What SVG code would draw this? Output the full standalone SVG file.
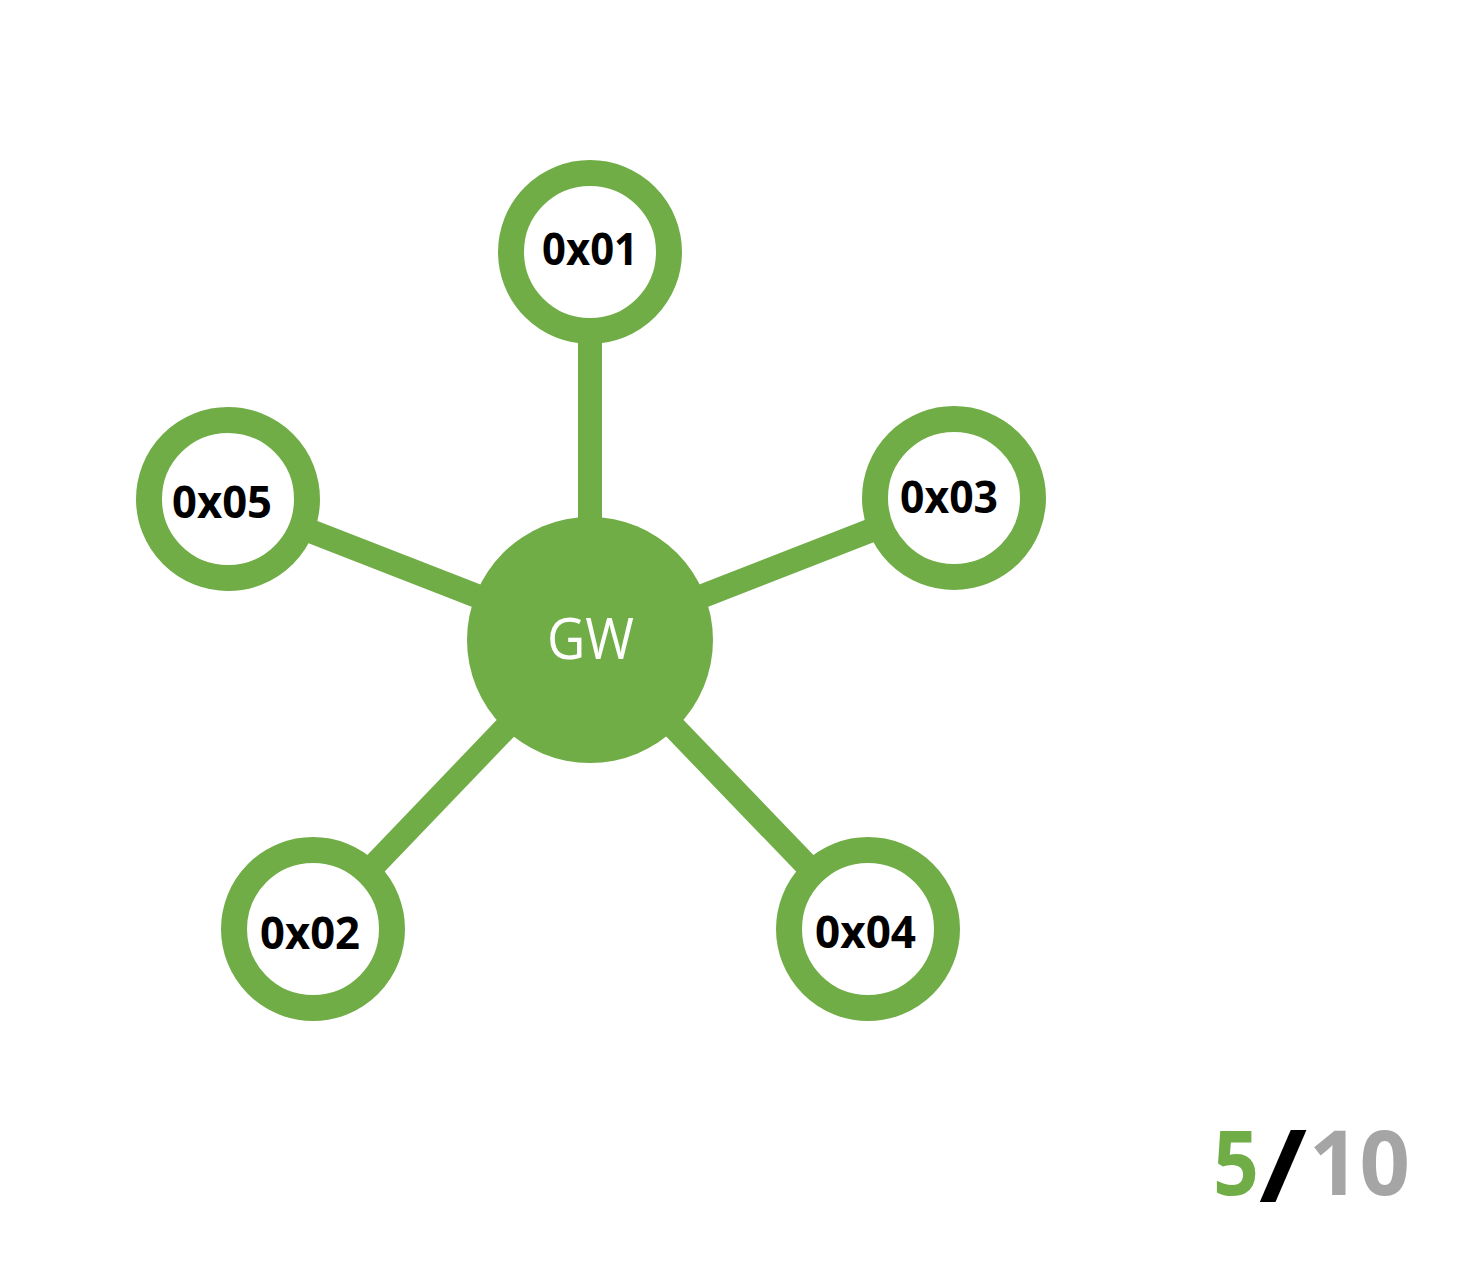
<svg xmlns="http://www.w3.org/2000/svg" width="1466" height="1273" viewBox="0 0 1466 1273">
<style>
.link{stroke:#70AD47;stroke-width:24;fill:none}
.ring{fill:#FFFFFF;stroke:#70AD47;stroke-width:26}
.lbl{font-family:"Open Sans","Liberation Sans",sans-serif;font-weight:700;font-size:45px;fill:#000000;text-anchor:middle}
.gw{font-family:"Open Sans","Liberation Sans",sans-serif;font-weight:400;font-size:57px;fill:#FFFFFF;text-anchor:middle}
.pg{font-family:"Open Sans","Liberation Sans",sans-serif;font-weight:700;font-size:90px}
</style>
<rect width="1466" height="1273" fill="#FFFFFF"/>
<g id="connectors">
<line class="link" x1="590" y1="640" x2="590" y2="252"/>
<line class="link" x1="590" y1="640" x2="228" y2="499"/>
<line class="link" x1="590" y1="640" x2="954" y2="498"/>
<line class="link" x1="590" y1="640" x2="313" y2="929"/>
<line class="link" x1="590" y1="640" x2="868" y2="929"/>
</g>
<g id="gw">
<circle cx="590" cy="640" r="123" fill="#70AD47"/>
<text class="gw" x="590.5" y="659" textLength="87" lengthAdjust="spacingAndGlyphs">GW</text>
</g>
<g id="n01">
<circle class="ring" cx="590" cy="252" r="79"/>
<text class="lbl" x="590" y="265" textLength="96" lengthAdjust="spacingAndGlyphs">0x01</text>
</g>
<g id="n05">
<circle class="ring" cx="228" cy="499" r="79"/>
<text class="lbl" x="222" y="518" textLength="100" lengthAdjust="spacingAndGlyphs">0x05</text>
</g>
<g id="n03">
<circle class="ring" cx="954" cy="498" r="79"/>
<text class="lbl" x="949" y="513" textLength="98" lengthAdjust="spacingAndGlyphs">0x03</text>
</g>
<g id="n02">
<circle class="ring" cx="313" cy="929" r="79"/>
<text class="lbl" x="310" y="949" textLength="100" lengthAdjust="spacingAndGlyphs">0x02</text>
</g>
<g id="n04">
<circle class="ring" cx="868" cy="929" r="79"/>
<text class="lbl" x="865.5" y="948" textLength="101" lengthAdjust="spacingAndGlyphs">0x04</text>
</g>
<g id="page">
<text class="pg" x="1213" y="1195" fill="#70AD47" textLength="46" lengthAdjust="spacingAndGlyphs">5</text>
<text class="pg" x="1259" y="1202" fill="#000000" style="font-size:100px" textLength="48" lengthAdjust="spacingAndGlyphs">/</text>
<text class="pg" x="1309" y="1195" fill="#A5A5A5" textLength="101" lengthAdjust="spacingAndGlyphs">10</text>
</g>
</svg>
